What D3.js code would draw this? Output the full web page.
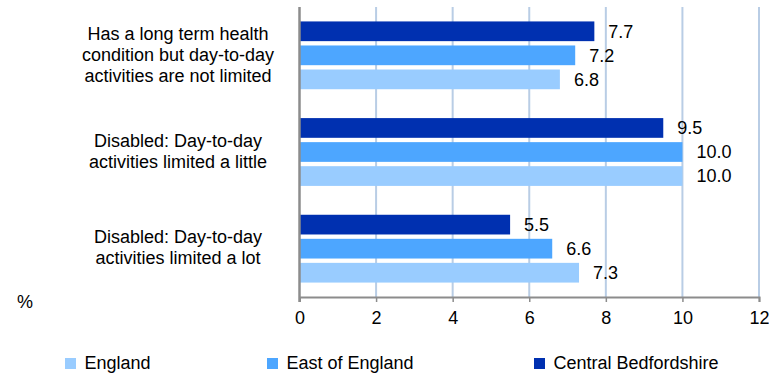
<!DOCTYPE html>
<html>
<head>
<meta charset="utf-8">
<script src="https://cdn.jsdelivr.net/npm/d3@7"></script>
<style>
  body { margin: 0; background: #fff; }
  text { font-family: "Liberation Sans", Arial, sans-serif; fill: #000; }
</style>
</head>
<body>
<svg id="chart" width="769" height="374"></svg>
<script>
// chart values
const categories = [
    ["Has a long term health", "condition but day-to-day", "activities are not limited"],
    ["Disabled: Day-to-day", "activities limited a little"],
    ["Disabled: Day-to-day", "activities limited a lot"]];
const seriesNames = ["Central Bedfordshire", "East of England", "England"];
const centralBeds = [7.7, 9.5, 5.5];
const eastOfEngland = [7.2, 10.0, 6.6];
const england = [6.8, 10.0, 7.3];
const xTicks = [0, 2, 4, 6, 8, 10, 12];
const legendOrder = ["England", "East of England", "Central Bedfordshire"];

const colors = {"Central Bedfordshire": "#0030b0", "East of England": "#4da6ff", "England": "#99ccff"};
const seriesValues = [centralBeds, eastOfEngland, england];

const svg = d3.select("#chart");
const plotLeft = 299.5, plotRight = 759, plotTop = 7, plotBottom = 297;
const fs = 18;

const x = d3.scaleLinear().domain([0, 12]).range([plotLeft, plotRight]);
const y = d3.scaleBand().domain(d3.range(categories.length)).range([plotTop, plotBottom]);
const yInner = d3.scaleBand().domain(seriesNames).range([0, y.bandwidth()])
    .paddingInner(0.18).paddingOuter(0.6);

// gridlines
svg.append("g")
    .selectAll("line")
    .data(xTicks.filter(d => d > 0))
    .enter()
    .append("line")
    .attr("x1", d => x(d)).attr("x2", d => x(d))
    .attr("y1", plotTop).attr("y2", plotBottom)
    .attr("stroke", "#b9cde5")
    .attr("stroke-width", 2);

// bars
const groups = svg.append("g")
    .selectAll("g")
    .data(categories)
    .enter()
    .append("g")
    .attr("transform", (d, i) => "translate(0," + y(i) + ")");

groups.selectAll("rect")
    .data((d, i) => seriesNames.map((s, j) => ({s: s, v: seriesValues[j][i]})))
    .enter()
    .append("rect")
    .attr("x", x(0))
    .attr("y", d => yInner(d.s))
    .attr("width", d => x(d.v) - x(0))
    .attr("height", yInner.bandwidth())
    .attr("fill", d => colors[d.s]);

groups.selectAll("text.val")
    .data((d, i) => seriesNames.map((s, j) => ({s: s, v: seriesValues[j][i]})))
    .enter()
    .append("text")
    .attr("class", "val")
    .attr("x", d => x(d.v) + 14)
    .attr("y", d => yInner(d.s) + yInner.bandwidth() / 2)
    .attr("dy", "0.35em")
    .attr("font-size", fs)
    .text(d => d.v.toFixed(1));

// category labels
groups.append("text")
    .attr("text-anchor", "middle")
    .attr("font-size", fs)
    .selectAll("tspan")
    .data(d => d)
    .enter()
    .append("tspan")
    .attr("x", 178)
    .attr("y", function(d, i) {
        const n = d3.select(this.parentNode).datum().length;
        return y.bandwidth() / 2 + (i - (n - 1) / 2) * 21 - 1;
    })
    .attr("dy", "0.35em")
    .text(d => d);

// axes
const xAxis = svg.append("g")
    .attr("transform", "translate(0," + plotBottom + ")")
    .call(d3.axisBottom(x).tickValues(xTicks).tickSize(5).tickPadding(9).tickFormat(d3.format("d")));
xAxis.select(".domain").attr("stroke", "#8c8c8c").attr("stroke-width", 2);
xAxis.selectAll(".tick line").attr("stroke", "#8c8c8c").attr("stroke-width", 1.5);
xAxis.selectAll(".tick text").attr("font-size", fs).attr("font-family", "Liberation Sans, Arial, sans-serif").attr("fill", "#000");

svg.append("line")
    .attr("x1", x(0)).attr("x2", x(0))
    .attr("y1", plotTop).attr("y2", plotBottom + 5)
    .attr("stroke", "#8c8c8c")
    .attr("stroke-width", 2.5);

svg.append("text")
    .attr("x", 17).attr("y", 308)
    .attr("font-size", fs)
    .text("%");

// legend
const legendX = [65, 267, 534];
const legend = svg.append("g")
    .selectAll("g")
    .data(legendOrder)
    .enter()
    .append("g")
    .attr("transform", (d, i) => "translate(" + legendX[i] + ",358)");
legend.append("rect")
    .attr("width", 11).attr("height", 11)
    .attr("fill", d => colors[d]);
legend.append("text")
    .attr("x", 19.5).attr("y", 11)
    .attr("font-size", fs)
    .text(d => d);
</script>
</body>
</html>
